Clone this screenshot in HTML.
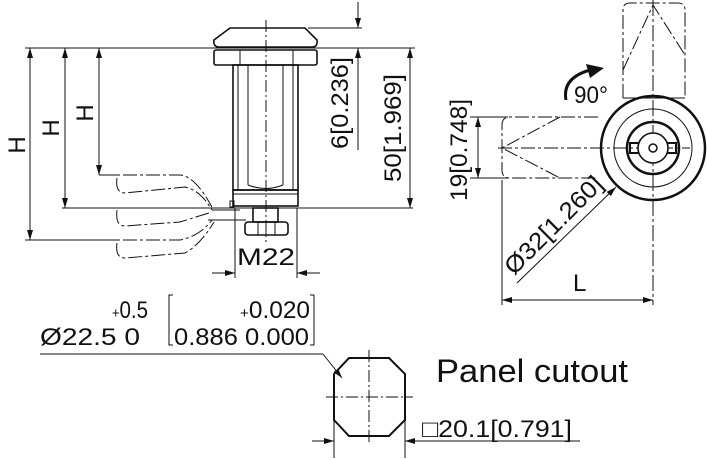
<!DOCTYPE html>
<html><head><meta charset="utf-8"><style>
html,body{margin:0;padding:0;background:#fff}
svg{display:block}
text{font-family:"Liberation Sans",sans-serif;fill:#111}
</style></head><body>
<svg width="707" height="460" viewBox="0 0 707 460" xmlns="http://www.w3.org/2000/svg">
<defs>
<marker id="a" viewBox="0 0 10 6" refX="10" refY="3" markerWidth="10" markerHeight="6" orient="auto-start-reverse" markerUnits="userSpaceOnUse"><path d="M0,0L10,3L0,6z" fill="#111"/></marker>
</defs>
<g stroke="#111" fill="none" stroke-width="1">
<line x1="25" y1="48" x2="415" y2="48"/>
<line x1="62" y1="208" x2="413" y2="208"/>
<line x1="99" y1="175" x2="118" y2="175"/>
<line x1="25" y1="240" x2="118" y2="240"/>
<line x1="30" y1="48" x2="30" y2="240" marker-start="url(#a)" marker-end="url(#a)"/>
<line x1="65" y1="48" x2="65" y2="208" marker-start="url(#a)" marker-end="url(#a)"/>
<line x1="99" y1="48" x2="99" y2="175" marker-start="url(#a)" marker-end="url(#a)"/>
<line x1="410" y1="48" x2="410" y2="208" marker-start="url(#a)" marker-end="url(#a)"/>
<line x1="308" y1="28" x2="362" y2="28"/>
<line x1="358" y1="2" x2="358" y2="28" marker-end="url(#a)"/>
<line x1="358" y1="150" x2="358" y2="48" marker-end="url(#a)"/>
<g stroke-width="1.6">
<path d="M230,28 L305,28 L317,40 Q318,47 312,47 L219,47 Q213,47 214,40 Z"/>
<rect x="214" y="50" width="103" height="15" rx="2"/>
<rect x="233" y="65" width="65" height="125"/>
<rect x="233" y="190" width="65" height="16"/>
<rect x="253" y="208" width="25" height="14"/>
<rect x="245" y="222" width="43" height="13" rx="3"/>
</g>
<line x1="240" y1="50" x2="240" y2="65"/><line x1="293" y1="50" x2="293" y2="65"/>
<line x1="238" y1="65" x2="238" y2="190"/><line x1="248" y1="65" x2="248" y2="185"/>
<line x1="283" y1="65" x2="283" y2="185"/><line x1="293" y1="65" x2="293" y2="190"/>
<path d="M248,185 Q266,192 283,185"/>
<line x1="233" y1="194" x2="298" y2="194"/>
<line x1="258" y1="222" x2="258" y2="235"/><line x1="266" y1="222" x2="266" y2="235"/><line x1="275" y1="222" x2="275" y2="235"/>
<line x1="266" y1="20" x2="266" y2="242" stroke-dasharray="12,3,2,3"/>
<g stroke-dasharray="14,3,3,3">
<path d="M100,175 L180,175 Q195,176 212,207"/>
<path d="M117,178 Q115,193 125,193 L185,187 Q200,190 212,210"/>
<path d="M117,210 Q115,226 125,226 L180,222 L212,212"/>
<path d="M80,208 L180,208"/>
<path d="M100,240 L180,240 Q200,236 212,220"/>
<path d="M117,243 Q115,258 125,258 L185,253 Q200,245 214,222"/>
</g>
<path d="M212,210 L240,210 M208,220 L246,220"/>
<rect x="230" y="201" width="4" height="6"/>
<line x1="235" y1="208" x2="235" y2="278"/><line x1="297" y1="208" x2="297" y2="278"/>
<line x1="212" y1="273" x2="235" y2="273" marker-end="url(#a)"/>
<line x1="320" y1="273" x2="297" y2="273" marker-end="url(#a)"/>
<line x1="653" y1="0" x2="653" y2="305" stroke-dasharray="16,3,3,3"/>
<line x1="498" y1="148" x2="690" y2="148" stroke-dasharray="14,3,3,3"/>
<circle cx="653" cy="148" r="52" stroke-width="2.5"/>
<circle cx="653" cy="148" r="39"/>
<circle cx="653" cy="148" r="26" stroke-width="2.5"/>
<path d="M630,143 L676,143 L676,153 L630,153 Z" stroke-width="2"/>
<circle cx="653" cy="148" r="15" stroke-width="1.6" fill="#fff"/>
<path d="M638,143 L630,143 L630,153 L638,153 M668,143 L676,143 L676,153 L668,153" stroke-width="2"/>
<circle cx="653" cy="148" r="4" stroke-width="1.5"/>
<g stroke-dasharray="14,3,3,3">
<path d="M623,98 L623,10 Q623,3 630,3 L678,3 Q685,3 685,10 L685,98"/>
<path d="M623,70 L653,5 L685,55"/>
<path d="M598,117 L510,117 Q502,117 502,125 L502,170 Q502,178 510,178 L598,178"/>
<path d="M560,117 L502,148 L560,178"/>
</g>
<line x1="623" y1="98" x2="685" y2="98"/>
<line x1="470" y1="117" x2="508" y2="117"/><line x1="470" y1="178" x2="508" y2="178"/>
<line x1="478" y1="117" x2="478" y2="178" marker-start="url(#a)" marker-end="url(#a)"/>
<line x1="502" y1="180" x2="502" y2="305"/>
<line x1="502" y1="300" x2="653" y2="300" marker-start="url(#a)" marker-end="url(#a)"/>
<line x1="517" y1="283" x2="616" y2="187" marker-end="url(#a)"/>
<path d="M566,100 Q562,78 590,70" stroke-width="3"/>
<path d="M586,64 L604,68 L590,78 Z" fill="#111" stroke="none"/>
<line x1="40" y1="354" x2="323" y2="354"/>
<line x1="323" y1="354" x2="342" y2="378" marker-end="url(#a)"/>
<path d="M349,358 L389,358 L405,374 L405,420 L389,436 L349,436 L334,420 L334,374 Z" stroke-width="2"/>
<line x1="369" y1="350" x2="369" y2="445" stroke-dasharray="12,3,2,3"/>
<line x1="326" y1="397" x2="413" y2="397" stroke-dasharray="12,3,2,3"/>
<line x1="334" y1="420" x2="334" y2="458"/><line x1="405" y1="420" x2="405" y2="458"/>
<line x1="312" y1="441" x2="334" y2="441" marker-end="url(#a)"/>
<line x1="580" y1="441" x2="405" y2="441"/>
<line x1="420" y1="441" x2="405" y2="441" marker-end="url(#a)"/>
<path d="M173,295 L169,295 L169,345 L173,345 M310,295 L314,295 L314,345 L310,345"/>
</g>
<g font-size="24">
<text transform="translate(25,145) rotate(-90)" text-anchor="middle">H</text>
<text transform="translate(59,128) rotate(-90)" text-anchor="middle">H</text>
<text transform="translate(93,113) rotate(-90)" text-anchor="middle">H</text>
<text transform="translate(348,103) rotate(-90)" text-anchor="middle" textLength="92" lengthAdjust="spacingAndGlyphs">6[0.236]</text>
<text transform="translate(401,128) rotate(-90)" text-anchor="middle" textLength="108" lengthAdjust="spacingAndGlyphs">50[1.969]</text>
<text x="266" y="265" text-anchor="middle" textLength="58" lengthAdjust="spacingAndGlyphs">M22</text>
<text transform="translate(467,150) rotate(-90)" text-anchor="middle" textLength="102" lengthAdjust="spacingAndGlyphs">19[0.748]</text>
<text x="574" y="103" textLength="34" lengthAdjust="spacingAndGlyphs">90°</text>
<text transform="translate(514,276) rotate(-45)" textLength="128" lengthAdjust="spacingAndGlyphs">Ø32[1.260]</text>
<text x="573" y="291">L</text>
<text x="112" y="318" textLength="36" lengthAdjust="spacingAndGlyphs"><tspan font-size="15">+</tspan>0.5</text>
<text x="40" y="345" textLength="100" lengthAdjust="spacingAndGlyphs">Ø22.5  0</text>
<text x="240" y="318" textLength="70" lengthAdjust="spacingAndGlyphs"><tspan font-size="15">+</tspan>0.020</text>
<text x="174" y="345" textLength="135" lengthAdjust="spacingAndGlyphs">0.886 0.000</text>
<text x="422" y="437" textLength="150" lengthAdjust="spacingAndGlyphs">□20.1[0.791]</text>
</g>
<text x="436" y="382" font-size="32" textLength="192" lengthAdjust="spacingAndGlyphs">Panel cutout</text>
</svg>
</body></html>
